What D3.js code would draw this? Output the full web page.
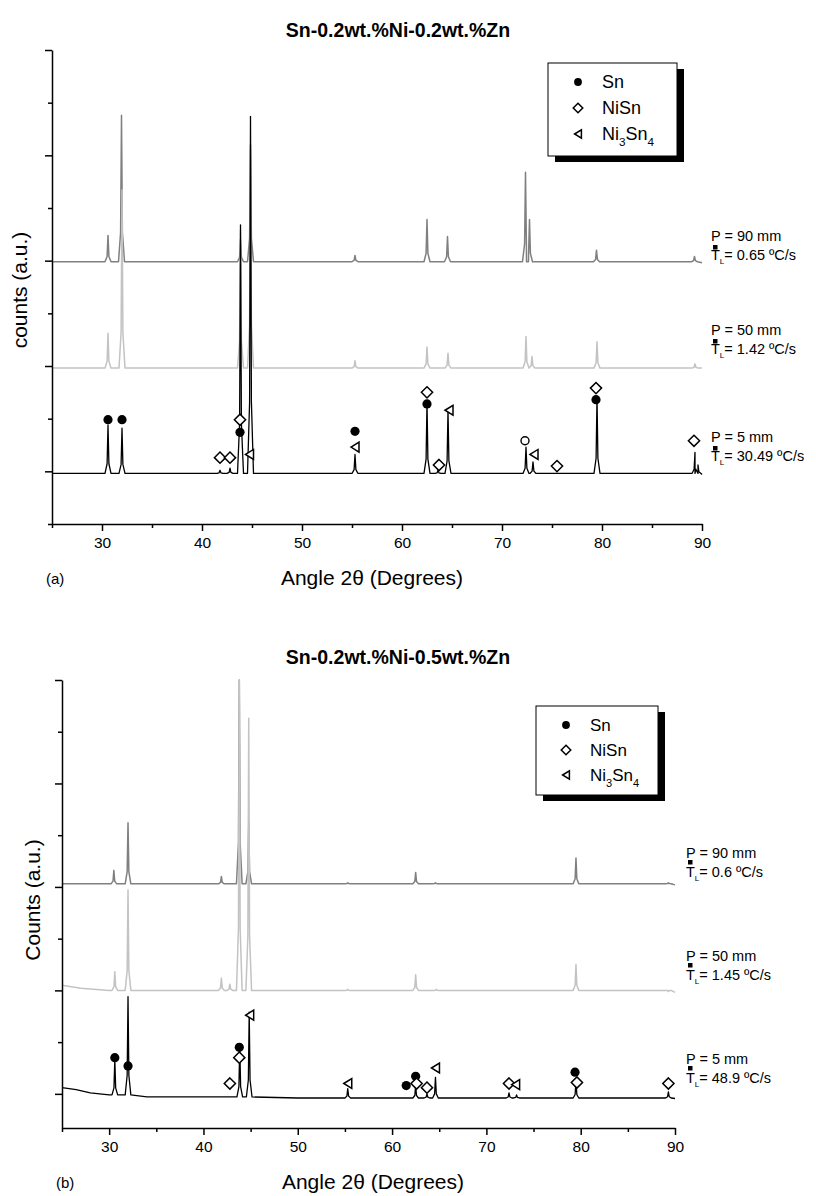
<!DOCTYPE html>
<html>
<head>
<meta charset="utf-8">
<script src="https://cdn.jsdelivr.net/npm/d3@7"></script>
<style>
body { margin: 0; background: #fff; }
svg { display: block; }
text { font-family: "Liberation Sans", Arial, sans-serif; fill: #000; }
</style>
</head>
<body>
<div id="vis"></div>
<script>
// ---- data ----
var xTicks = [30, 40, 50, 60, 70, 80, 90];
var xMinor = [25, 35, 45, 55, 65, 75, 85];
var phases = ['Sn', 'NiSn', 'Ni3Sn4'];

// (a) Sn-0.2wt.%Ni-0.2wt.%Zn   peaks = [2theta, counts (a.u.)]
var a90Base = [[25, 1.99], [90, 1.98]];
var a90Peaks = [[30.6, 2.24], [31.95, 3.38], [43.85, 2.2], [44.85, 3.1], [55.3, 2.05], [62.5, 2.39],
  [64.55, 2.23], [72.35, 2.84], [72.75, 2.39], [79.45, 2.10], [89.25, 2.04]];
var a50Base = [[25, 0.98], [90, 0.98]];
var a50Peaks = [[30.6, 1.31], [32.0, 2.67], [43.85, 2.29], [44.85, 3.05], [55.3, 1.05], [62.5, 1.18],
  [64.6, 1.12], [72.4, 1.28], [73.0, 1.09], [79.5, 1.23], [89.3, 1.02]];
var a5Base = [[25, -0.02], [90, -0.03]];
var a5Peaks = [[30.6, 0.44], [32.0, 0.41], [41.8, 0.01], [42.8, 0.03], [43.85, 2.34], [44.85, 3.37],
  [55.3, 0.16], [62.5, 0.66], [63.6, 0.01], [64.6, 0.58], [72.4, 0.23], [73.1, 0.09], [79.5, 0.70],
  [89.3, 0.18], [89.6, 0.06]];
var aMarks = [[30.6, 0.49, 'Sn'], [32.0, 0.49, 'Sn'], [41.8, 0.13, 'NiSn'], [42.8, 0.13, 'NiSn'],
  [43.8, 0.37, 'Sn'], [43.8, 0.49, 'NiSn'], [44.75, 0.16, 'Ni3Sn4'],
  [55.3, 0.38, 'Sn'], [55.3, 0.23, 'Ni3Sn4'],
  [62.5, 0.64, 'Sn'], [62.5, 0.75, 'NiSn'], [63.7, 0.06, 'NiSn'], [64.7, 0.58, 'Ni3Sn4'],
  [72.3, 0.29, 'other'], [73.2, 0.16, 'Ni3Sn4'], [75.5, 0.05, 'NiSn'],
  [79.4, 0.68, 'Sn'], [79.4, 0.79, 'NiSn'], [89.2, 0.29, 'NiSn']];
var aConds = [['90', '0.65'], ['50', '1.42'], ['5', '30.49']];

// (b) Sn-0.2wt.%Ni-0.5wt.%Zn
var b90Base = [[25, 2.03], [90, 2.02]];
var b90Peaks = [[30.5, 2.16], [32.0, 2.62], [41.9, 2.1], [43.8, 4.0], [44.8, 2.62], [55.3, 2.04],
  [62.5, 2.14], [64.6, 2.04], [79.5, 2.28], [89.3, 2.04]];
var b50Base = [[25, 1.05], [27, 1.02], [30, 1.0], [90, 0.98]];
var b50Peaks = [[30.6, 1.18], [32.0, 1.97], [41.9, 1.12], [42.8, 1.06], [43.8, 4.0], [44.8, 3.63],
  [55.3, 1.01], [62.5, 1.15], [64.7, 1.01], [79.5, 1.25], [89.3, 0.99]];
var b5Base = [[25, 0.06], [26.5, 0.04], [28, 0.01], [30, -0.01], [34, -0.03], [50, -0.04], [90, -0.045]];
var b5Peaks = [[30.6, 0.33], [32.0, 0.94], [43.85, 0.47], [44.85, 0.79], [55.3, 0.05], [62.5, 0.08],
  [63.7, 0.0], [64.6, 0.16], [72.4, 0.01], [73.2, -0.01], [79.5, 0.13], [89.3, 0.02]];
var bMarks = [[30.6, 0.35, 'Sn'], [32.0, 0.27, 'Sn'], [42.8, 0.10, 'NiSn'], [43.8, 0.45, 'Sn'],
  [43.8, 0.35, 'NiSn'], [44.9, 0.76, 'Ni3Sn4'], [55.3, 0.10, 'Ni3Sn4'], [61.5, 0.08, 'Sn'],
  [62.5, 0.17, 'Sn'], [62.6, 0.10, 'NiSn'], [63.7, 0.06, 'NiSn'], [64.6, 0.25, 'Ni3Sn4'],
  [72.4, 0.10, 'NiSn'], [73.1, 0.09, 'Ni3Sn4'], [79.4, 0.21, 'Sn'], [79.6, 0.11, 'NiSn'],
  [89.3, 0.10, 'NiSn']];
var bConds = [['90', '0.6'], ['50', '1.45'], ['5', '48.9']];

var colors = ['#808080', '#c3c3c3', '#000'];

// ---- drawing ----
var svg = d3.select('#vis').append('svg')
  .attr('width', 816).attr('height', 1196);

function footLevel(base, a) {
  var lv = base[0][1];
  base.forEach(function (b) { if (b[0] <= a) lv = b[1]; });
  return lv;
}

function marker(g, type, cx, cy, s) {
  s = s || 1;
  if (type == 'Sn') {
    g.append('circle').attr('cx', cx).attr('cy', cy).attr('r', 4.6 * s).attr('fill', '#000');
  } else if (type == 'NiSn') {
    var d = 5.6 * s;
    g.append('path')
      .attr('d', 'M' + cx + ',' + (cy - d) + 'L' + (cx + d) + ',' + cy + 'L' + cx + ',' + (cy + d) + 'L' + (cx - d) + ',' + cy + 'Z')
      .attr('fill', '#fff').attr('stroke', '#000').attr('stroke-width', 1.5);
  } else if (type == 'Ni3Sn4') {
    var h = 5 * s, w = 8 * s;
    g.append('path')
      .attr('d', 'M' + (cx - w / 2) + ',' + cy + 'L' + (cx + w / 2) + ',' + (cy - h) + 'L' + (cx + w / 2) + ',' + (cy + h) + 'Z')
      .attr('fill', '#fff').attr('stroke', '#000').attr('stroke-width', 1.5);
  } else {
    g.append('circle').attr('cx', cx).attr('cy', cy).attr('r', 4 * s)
      .attr('fill', '#fff').attr('stroke', '#000').attr('stroke-width', 1.4);
  }
}

function phaseText(t, name) {
  if (name == 'Ni3Sn4') {
    t.append('tspan').text('Ni');
    t.append('tspan').attr('dy', 6).attr('font-size', '0.65em').text('3');
    t.append('tspan').attr('dy', -6).text('Sn');
    t.append('tspan').attr('dy', 6).attr('font-size', '0.65em').text('4');
  } else t.text(name);
}

function drawPanel(c) {
  var g = svg.append('g');
  var x = d3.scaleLinear().domain([25, 90]).range([c.left, c.right]);
  var y = d3.scaleLinear().domain(c.yDomain).range([c.bottom, c.top]);
  var line = d3.line().x(function (d) { return x(d[0]); }).y(function (d) { return y(d[1]); });

  c.traces.forEach(function (t, i) {
    var pts = t[0].slice();
    t[1].forEach(function (p) {
      var f = footLevel(t[0], p[0]);
      pts.push([p[0] - 0.3, f], [p[0] - 0.09, f + 0.2 * (p[1] - f)], [p[0], p[1]],
        [p[0] + 0.09, f + 0.2 * (p[1] - f)], [p[0] + 0.3, f]);
    });
    pts.sort(function (a, b) { return a[0] - b[0]; });
    g.append('path').attr('d', line(pts)).attr('fill', 'none')
      .attr('stroke', colors[i]).attr('stroke-width', i == 2 ? 1.3 : 1.5).attr('stroke-linejoin', 'round');
  });

  c.marks.forEach(function (m) { marker(g, m[2], x(m[0]), y(m[1])); });

  // axes
  var xa = g.append('g').attr('transform', 'translate(0,' + c.bottom + ')')
    .call(d3.axisBottom(x).tickValues(xTicks).tickSize(7).tickSizeOuter(0).tickPadding(6));
  xa.selectAll('text').attr('font-size', 15.5);
  g.append('g').attr('transform', 'translate(0,' + c.bottom + ')')
    .call(d3.axisBottom(x).tickValues(xMinor).tickSize(4).tickFormat('')).select('.domain').remove();
  var yMaj = d3.range(0, 4.01, 1), yMin = c.yMinor;
  g.append('g').attr('transform', 'translate(' + c.left + ',0)')
    .call(d3.axisLeft(y).tickValues(yMaj).tickSize(7).tickSizeOuter(0).tickFormat(''));
  g.append('g').attr('transform', 'translate(' + c.left + ',0)')
    .call(d3.axisLeft(y).tickValues(yMin).tickSize(4).tickFormat('')).select('.domain').remove();
  g.selectAll('.domain, .tick line').attr('stroke', '#000').attr('stroke-width', 1.5);

  // titles
  g.append('text').attr('x', 398).attr('y', c.titleY).attr('text-anchor', 'middle')
    .attr('font-size', 19.5).attr('font-weight', 'bold').text(c.title);
  g.append('text').attr('x', c.xlabX).attr('y', c.bottom + 61)
    .attr('text-anchor', 'middle').attr('font-size', 21).text('Angle 2\u03b8 (Degrees)');
  g.append('text').attr('x', c.left - 6).attr('y', c.bottom + 60).attr('font-size', 15).text(c.tag);
  g.append('text').attr('transform', 'translate(' + c.ylabX + ',' + c.ylabY + ')rotate(-90)')
    .attr('text-anchor', 'middle').attr('font-size', 21).text(c.ylab);

  // legend
  var L = c.legend;
  g.append('rect').attr('x', L.x + 7).attr('y', L.y + 6).attr('width', L.w).attr('height', L.h).attr('fill', '#000');
  g.append('rect').attr('x', L.x).attr('y', L.y).attr('width', L.w).attr('height', L.h)
    .attr('fill', '#fff').attr('stroke', '#000').attr('stroke-width', 1);
  phases.forEach(function (p, i) {
    var ry = L.y + L.row0 + i * L.dy;
    marker(g, p, L.x + 30, ry, 0.85);
    var t = g.append('text').attr('x', L.x + 54).attr('y', ry + 6).attr('font-size', L.fs);
    phaseText(t, p);
  });

  // conditions
  c.conds.forEach(function (cd, i) {
    var px = c.right + c.condDx, py = c.condY[i];
    g.append('text').attr('x', px).attr('y', py + 5).attr('font-size', 14.5).text('P = ' + cd[0] + ' mm');
    g.append('rect').attr('x', px + 2).attr('y', py + c.sqDy).attr('width', 4.5).attr('height', 4.5).attr('fill', '#000');
    var t = g.append('text').attr('x', px).attr('y', py + 24).attr('font-size', 14.5);
    t.append('tspan').text('T');
    t.append('tspan').attr('dy', 4).attr('font-size', 8).text('L');
    t.append('tspan').attr('dy', -4).text('= ' + cd[1] + ' \u00baC/s');
  });
}

drawPanel({
  title: 'Sn-0.2wt.%Ni-0.2wt.%Zn', titleY: 37, tag: '(a)', ylab: 'counts (a.u.)', ylabX: 27, ylabY: 290, xlabX: 372,
  left: 52, right: 702, top: 50, bottom: 524, yDomain: [-0.5, 4], yMinor: [-0.5, 0.5, 1.5, 2.5, 3.5],
  traces: [[a90Base, a90Peaks], [a50Base, a50Peaks], [a5Base, a5Peaks]],
  marks: aMarks, conds: aConds, condDx: 9, condY: [236, 330, 437], sqDy: 9,
  legend: { x: 548, y: 63, w: 129, h: 93, row0: 19, dy: 26, fs: 18 }
});

drawPanel({
  title: 'Sn-0.2wt.%Ni-0.5wt.%Zn', titleY: 664, tag: '(b)', ylab: 'Counts (a.u.)', ylabX: 40, ylabY: 900, xlabX: 373,
  left: 62, right: 675, top: 680, bottom: 1128, yDomain: [-0.33, 4], yMinor: [0.5, 1.5, 2.5, 3.5],
  traces: [[b90Base, b90Peaks], [b50Base, b50Peaks], [b5Base, b5Peaks]],
  marks: bMarks, conds: bConds, condDx: 11, condY: [853, 956, 1059], sqDy: 7,
  legend: { x: 536, y: 706, w: 122, h: 89, row0: 19, dy: 25, fs: 17 }
});
</script>
</body>
</html>
